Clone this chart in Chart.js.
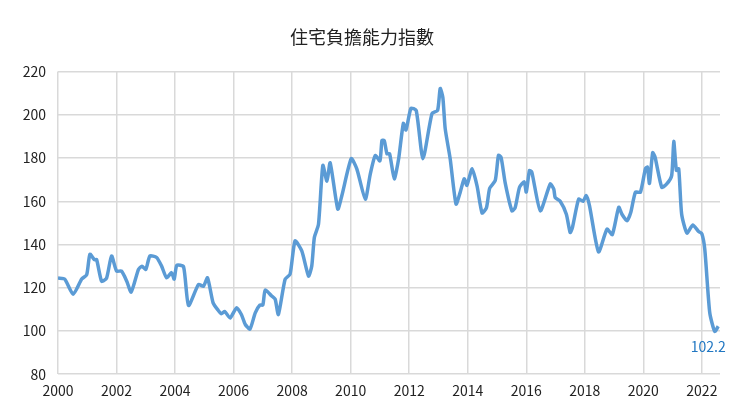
<!DOCTYPE html>
<html lang="zh-Hant">
<head>
<meta charset="UTF-8">
<title>住宅負擔能力指數</title>
<script src="https://cdn.jsdelivr.net/npm/chart.js"></script>
<style>
  html, body { margin: 0; padding: 0; background: #fff; }
  #wrap { width: 740px; height: 416px; position: relative; }
</style>
</head>
<body>
<div id="wrap"><canvas id="chart"></canvas></div>
<script>
// decimal year and index value
const years = [
  2000.0, 2000.23, 2000.52, 2000.81, 2000.98, 2001.09, 2001.24, 2001.32, 2001.49, 2001.66, 2001.83,
  2002.0, 2002.17, 2002.35, 2002.5, 2002.75, 2002.87, 2003.0, 2003.14, 2003.37, 2003.54, 2003.71,
  2003.88, 2003.97, 2004.06, 2004.29, 2004.46, 2004.8, 2004.97, 2005.11, 2005.3, 2005.47, 2005.58,
  2005.7, 2005.88, 2006.1, 2006.27, 2006.4, 2006.56, 2006.74, 2006.9, 2007.0, 2007.08, 2007.3,
  2007.42, 2007.53, 2007.76, 2007.93, 2008.1, 2008.33, 2008.56, 2008.67, 2008.76, 2008.9, 2009.05,
  2009.19, 2009.3, 2009.56, 2009.7, 2010.02, 2010.21, 2010.5, 2010.67, 2010.84, 2011.0, 2011.07,
  2011.15, 2011.24, 2011.33, 2011.49, 2011.64, 2011.8, 2011.89, 2012.06, 2012.24, 2012.47, 2012.78,
  2012.97, 2013.06, 2013.15, 2013.23, 2013.4, 2013.6, 2013.74, 2013.88, 2013.97, 2014.15, 2014.32,
  2014.49, 2014.64, 2014.75, 2014.94, 2015.05, 2015.14, 2015.28, 2015.51, 2015.62, 2015.77, 2015.93,
  2016.0, 2016.11, 2016.19, 2016.48, 2016.82, 2016.94, 2016.99, 2017.16, 2017.37, 2017.5, 2017.58,
  2017.79, 2017.94, 2018.05, 2018.16, 2018.47, 2018.76, 2018.94, 2019.16, 2019.27, 2019.44, 2019.57,
  2019.73, 2019.9, 2020.07, 2020.14, 2020.21, 2020.32, 2020.4, 2020.63, 2020.8, 2020.97, 2021.04,
  2021.13, 2021.21, 2021.31, 2021.49, 2021.69, 2021.89, 2022.0, 2022.1, 2022.27, 2022.44, 2022.56
];
const values = [
  124.5, 124, 117, 124, 126, 135.5, 133, 133, 123, 124.5, 134.7,
  127.7, 127.7, 123, 118, 128.5, 130, 128.5, 134.7, 134, 130, 124.6,
  127, 124, 130.4, 129.7, 111.8, 121.5, 120.7, 124.6, 113, 109.6, 108,
  109, 106, 110.7, 107.5, 103, 100.9, 108.4, 112, 112, 118.9, 116.2,
  114.7, 107.6, 123.9, 126.3, 141.7, 137, 125.4, 130, 143.3, 149.3, 176.6,
  169.3, 177.8, 156.4, 162.7, 179.7, 175, 161, 172.6, 181.2, 178.7, 188.2,
  188, 182, 182, 170.4, 179.7, 196, 193, 203, 202, 179.7, 200.6,
  202, 212.2, 208, 193.6, 179.7, 158.7, 164, 170.4, 167.4, 175, 167,
  154.6, 157, 166, 169.6, 181.2, 180.3, 168.5, 155.6, 157, 166.5, 169,
  164.3, 174.2, 173.5, 155.6, 168, 165.6, 161.7, 160, 154, 145.6, 148,
  161, 160, 162.6, 158, 136.6, 147.1, 144.6, 157.2, 154, 151, 154.8,
  164.2, 164.2, 175, 175.8, 168.3, 182.5, 180.5, 166.5, 168, 172, 187.7,
  174.3, 175, 154, 145.3, 149, 146, 145, 137.8, 108.4, 99.8, 102.2
];
const yTicks = [80, 100, 120, 140, 160, 180, 200, 220];
const xTicks = [2000, 2002, 2004, 2006, 2008, 2010, 2012, 2014, 2016, 2018, 2020, 2022];
const lastLabel = '102.2';

const points = years.map((x, i) => ({ x: x, y: values[i] }));
const font = "'Noto Sans CJK TC', 'Noto Sans', sans-serif";

// value label beside the last point
const endLabel = {
  id: 'endLabel',
  afterDatasetsDraw(chart) {
    const meta = chart.getDatasetMeta(0);
    const p = meta.data[meta.data.length - 1];
    const ctx = chart.ctx;
    ctx.save();
    ctx.font = "14px " + font;
    ctx.fillStyle = '#2177c2';
    ctx.textAlign = 'center';
    ctx.fillText(lastLabel, p.x - 10, p.y + 26);
    ctx.restore();
  }
};

new Chart(document.getElementById('chart'), {
  type: 'line',
  data: {
    datasets: [{
      data: points,
      borderColor: '#5b9bd5',
      borderWidth: 3.5,
      pointRadius: 0,
      tension: 0.2,
      fill: false
    }]
  },
  options: {
    responsive: true,
    maintainAspectRatio: false,
    animation: false,
    layout: { padding: { left: 4, right: 20, top: 22, bottom: 9 } },
    plugins: {
      legend: { display: false },
      tooltip: { enabled: false },
      title: {
        display: true,
        text: '住宅負擔能力指數',
        color: '#222',
        font: { family: font, size: 18, weight: 'normal' },
        padding: { top: 4, bottom: 24 }
      }
    },
    scales: {
      x: {
        type: 'linear',
        min: 2000,
        max: 2022.62,
        afterBuildTicks(axis) { axis.ticks = xTicks.map(v => ({ value: v })); },
        grid: { color: '#d9d9d9', lineWidth: 1.5, drawTicks: false },
        border: { display: false },
        ticks: {
          color: '#222', font: { family: font, size: 14 }, padding: 8,
          callback: v => String(v)
        }
      },
      y: {
        min: 80,
        max: 220,
        afterBuildTicks(axis) { axis.ticks = yTicks.map(v => ({ value: v })); },
        afterFit(axis) { axis.width = 54; },
        grid: { color: '#d9d9d9', lineWidth: 1.5, drawTicks: false },
        border: { display: false },
        ticks: { color: '#222', font: { family: font, size: 14 }, padding: 12 }
      }
    }
  },
  plugins: [endLabel]
});
</script>
</body>
</html>
